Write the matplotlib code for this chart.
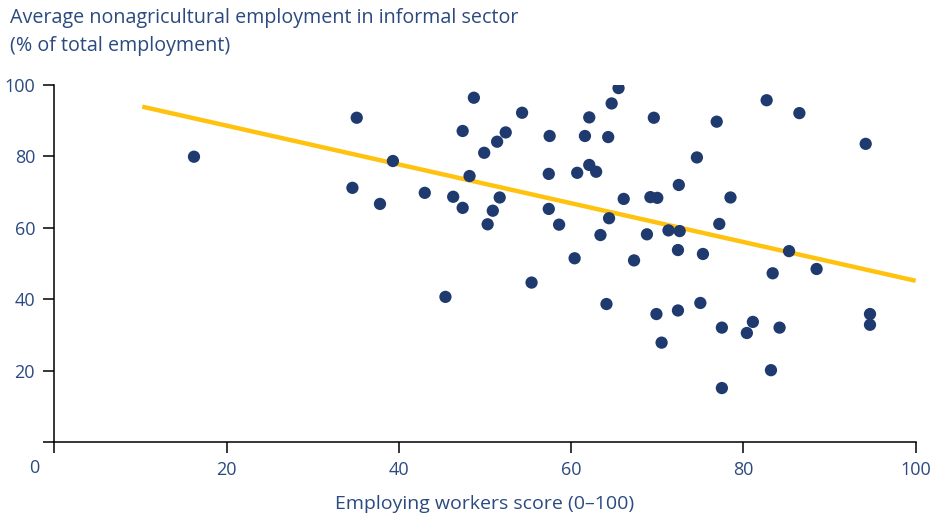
import matplotlib.pyplot as plt

# employing workers score vs informal nonagricultural employment (%)
score = [16.2, 34.6, 35.1, 37.8, 39.3, 43.0, 45.4, 46.3, 47.4, 47.4,
         48.2, 48.7, 49.9, 50.3, 50.9, 51.4, 51.7, 52.4, 54.3, 55.4,
         57.5, 57.4, 57.4, 58.6, 60.4, 60.7, 61.6, 62.1, 62.1, 62.9,
         63.4, 64.1, 64.3, 64.4, 64.7, 65.5, 66.1, 67.3, 68.8, 69.2,
         69.6, 70.0, 69.9, 70.5, 71.3, 72.5, 72.6, 72.4, 72.4, 74.6,
         75.0, 75.3, 76.9, 77.2, 77.5, 77.5, 78.5, 80.4, 81.1, 82.7,
         83.2, 83.4, 84.2, 85.3, 86.5, 88.5, 94.2, 94.7, 94.7]
informal = [79.8, 71.1, 90.7, 66.6, 78.6, 69.7, 40.6, 68.6, 65.5, 87.0,
            74.4, 96.3, 80.9, 60.9, 64.7, 84.0, 68.4, 86.6, 92.1, 44.6,
            85.6, 75.0, 65.2, 60.8, 51.4, 75.3, 85.6, 77.5, 90.8, 75.6,
            57.9, 38.6, 85.3, 62.6, 94.7, 99.0, 68.0, 50.8, 58.1, 68.5,
            90.7, 68.3, 35.8, 27.8, 59.2, 71.9, 59.0, 53.7, 36.8, 79.6,
            38.9, 52.6, 89.6, 61.0, 32.0, 15.1, 68.4, 30.5, 33.6, 95.6,
            20.1, 47.2, 32.0, 53.4, 92.0, 48.4, 83.4, 35.8, 32.8]

trend_x = [10.2, 100]
trend_y = [93.8, 45.1]

xticks = [0, 20, 40, 60, 80, 100]
yticks = [0, 20, 40, 60, 80, 100]

navy = '#1f3a6f'
text_col = '#2b4a80'
gold = '#ffc20e'

plt.rcParams['font.family'] = ['Open Sans', 'DejaVu Sans']

fig = plt.figure(figsize=(9.31, 5.14), dpi=100)
ax = fig.add_axes([0.0585, 0.140, 0.925, 0.6956])

ax.plot(trend_x, trend_y, color=gold, lw=3.2, solid_capstyle='butt', zorder=2)
ax.scatter(score, informal, s=78, color=navy, edgecolors='none', zorder=3)

ax.set_xlim(0, 100)
ax.set_ylim(0, 100)
for side in ['top', 'right']:
    ax.spines[side].set_visible(False)
ax.spines['left'].set_linewidth(1.1)
ax.spines['bottom'].set_linewidth(1.1)

ax.set_xticks(xticks)
ax.set_xticklabels([''] + [str(t) for t in xticks[1:]])
ax.set_yticks(yticks)
ax.set_yticklabels([''] + [str(t) for t in yticks[1:]])
ax.tick_params(axis='both', length=8, width=1.1, color='black',
               labelcolor=text_col, labelsize=13)
ax.tick_params(axis='x', pad=6)
ax.tick_params(axis='y', pad=6)

# the x "0" sits left of its tick
ax.text(-2.3, -7.4, '0', ha='center', va='center', color=text_col,
        fontsize=13, transform=ax.transData, clip_on=False)

ax.set_xlabel('Employing workers score (0\u2013100)', color=text_col,
              fontsize=14, labelpad=11)

fig.text(0.011, 0.965, 'Average nonagricultural employment in informal sector',
         color=text_col, fontsize=14.2, va='center', ha='left')
fig.text(0.011, 0.911, '(% of total employment)',
         color=text_col, fontsize=14.2, va='center', ha='left')

fig.savefig('out.png', dpi=100)
